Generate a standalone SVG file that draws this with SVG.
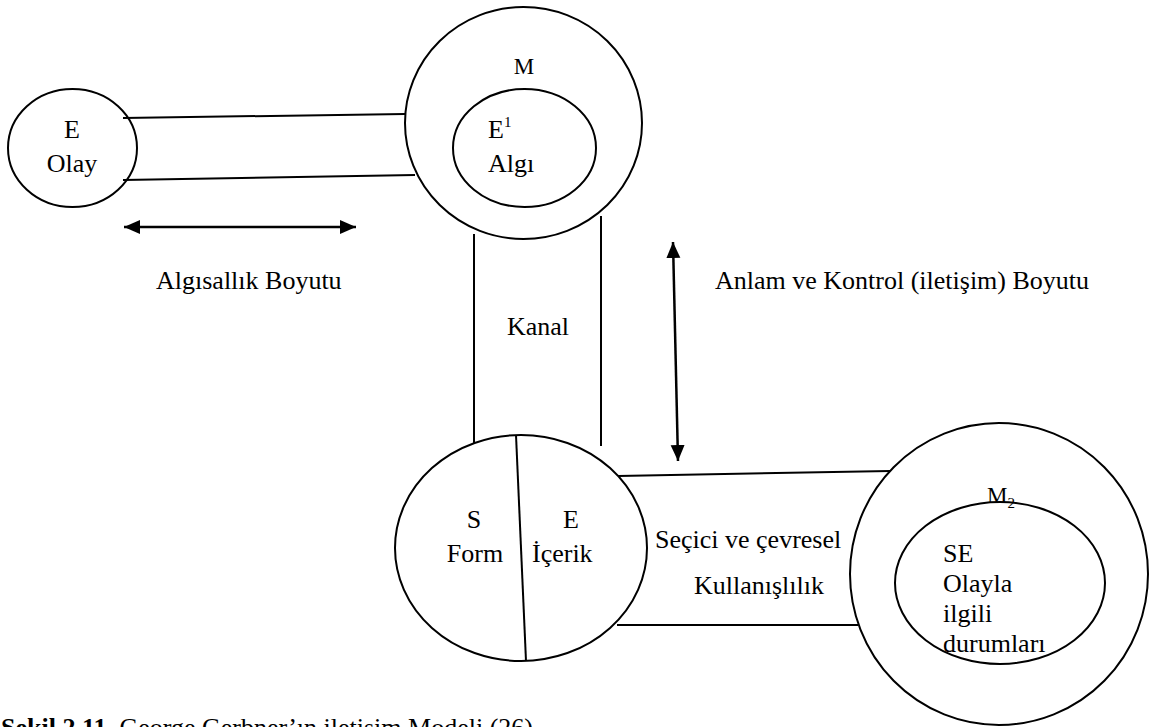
<svg xmlns="http://www.w3.org/2000/svg" width="1155" height="727" viewBox="0 0 1155 727">
  <style>
    .shape { fill: none; stroke: #000; stroke-width: 2; }
    .link { fill: none; stroke: #000; stroke-width: 2; }
    .dim { fill: none; stroke: #000; stroke-width: 2.5; }
    text { font-family: "Liberation Serif", "Times New Roman", serif; font-size: 26px; fill: #000; }
    .mid { text-anchor: middle; }
    .small { font-size: 23px; }
    .cap-bold { font-weight: bold; }
  </style>
  <defs>
    <marker id="head" viewBox="0 0 16 16" refX="16" refY="8" markerWidth="16" markerHeight="16" markerUnits="userSpaceOnUse" orient="auto-start-reverse">
      <path d="M0,1 L16,8 L0,15 z" fill="#000"/>
    </marker>
  </defs>
  <rect width="1155" height="727" fill="#fff"/>

  <!-- connectors -->
  <g id="connectors">
    <line class="link" x1="123" y1="118" x2="405" y2="114"/>
    <line class="link" x1="123" y1="180" x2="415" y2="175"/>
    <line class="link" x1="474" y1="234" x2="474" y2="443"/>
    <line class="link" x1="601" y1="216" x2="601" y2="446"/>
    <line class="link" x1="618" y1="476" x2="890" y2="471"/>
    <line class="link" x1="617" y1="625" x2="858" y2="625"/>
    <line class="dim" x1="124" y1="227" x2="356" y2="227" marker-start="url(#head)" marker-end="url(#head)"/>
    <line class="dim" x1="673" y1="242" x2="678" y2="461" marker-start="url(#head)" marker-end="url(#head)"/>
  </g>

  <!-- event -->
  <g id="node-event">
    <ellipse class="shape" cx="72.5" cy="148" rx="64.5" ry="59"/>
    <text class="mid" x="72" y="138">E</text>
    <text class="mid" x="72" y="172">Olay</text>
  </g>

  <!-- perceiver M with perception E1 -->
  <g id="node-perceiver">
    <ellipse class="shape" cx="523.5" cy="123" rx="118.5" ry="116"/>
    <ellipse class="shape" cx="524.5" cy="148" rx="71.5" ry="59"/>
    <text class="mid small" x="524" y="74">M</text>
    <text x="488" y="138">E<tspan font-size="15" dy="-11">1</tspan></text>
    <text x="488" y="172">Algı</text>
  </g>

  <!-- channel label -->
  <g id="label-channel">
    <text class="mid" x="538" y="335">Kanal</text>
  </g>

  <!-- statement: form and content -->
  <g id="node-statement">
    <ellipse class="shape" cx="521" cy="548" rx="126" ry="113"/>
    <line class="shape" x1="516" y1="435" x2="526" y2="661"/>
    <text class="mid" x="474" y="528">S</text>
    <text class="mid" x="475" y="562">Form</text>
    <text class="mid" x="571" y="528">E</text>
    <text x="532" y="562">İçerik</text>
  </g>

  <!-- second perceiver M2 -->
  <g id="node-receiver">
    <ellipse class="shape" cx="999" cy="574" rx="149" ry="151"/>
    <ellipse class="shape" cx="1000" cy="583" rx="105" ry="81"/>
    <text class="small" x="987" y="503">M<tspan font-size="15" dy="5">2</tspan></text>
    <text x="943" y="562">SE</text>
    <text x="943" y="592">Olayla</text>
    <text x="943" y="622">ilgili</text>
    <text x="943" y="652">durumları</text>
  </g>

  <!-- dimension labels -->
  <g id="labels">
    <text x="156" y="289">Algısallık Boyutu</text>
    <text x="715" y="289">Anlam ve Kontrol (iletişim) Boyutu</text>
    <text x="655" y="548">Seçici ve çevresel</text>
    <text x="694" y="594">Kullanışlılık</text>
  </g>

  <!-- caption -->
  <g id="caption">
    <text x="1" y="736"><tspan class="cap-bold">Şekil 2.11.</tspan> George Gerbner’ın iletişim Modeli (26)</text>
  </g>
</svg>
